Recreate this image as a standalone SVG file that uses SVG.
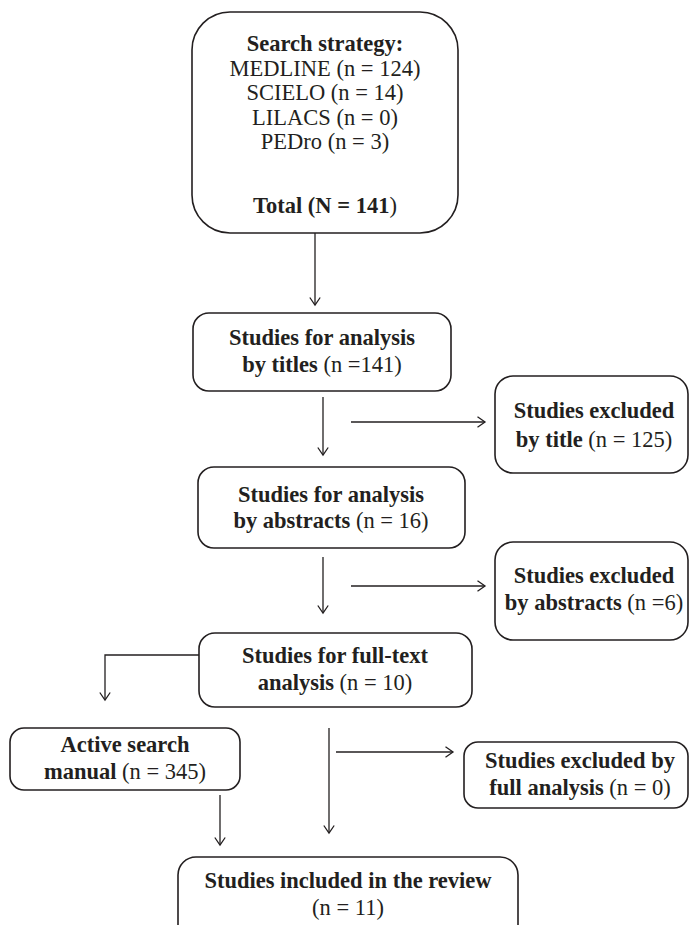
<svg xmlns="http://www.w3.org/2000/svg" width="689" height="925" viewBox="0 0 689 925">
<style>
.box{fill:#fff;stroke:#231f20;stroke-width:1.6}
.t{font-family:"Liberation Serif","Times New Roman",serif;font-size:22.5px;fill:#231f20;text-anchor:middle}
.b{font-weight:bold}
.c{fill:none;stroke:#231f20;stroke-width:1.3}
</style>
<defs>
<marker id="ah" markerUnits="userSpaceOnUse" markerWidth="12" markerHeight="14" refX="9" refY="6" orient="auto">
<path d="M1.5,0.8 L9,6 L1.5,11.2" fill="none" stroke="#231f20" stroke-width="1.3"/>
</marker>
</defs>
<rect width="689" height="925" fill="#fff"/>
<g id="connectors">
<path class="c" d="M315,233 V305" marker-end="url(#ah)"/>
<path class="c" d="M323,397 V455" marker-end="url(#ah)"/>
<path class="c" d="M351,422 H485" marker-end="url(#ah)"/>
<path class="c" d="M323,557 V613" marker-end="url(#ah)"/>
<path class="c" d="M351,586 H485" marker-end="url(#ah)"/>
<path class="c" d="M199,655 H105 V700" marker-end="url(#ah)"/>
<path class="c" d="M336,752 H453" marker-end="url(#ah)"/>
<path class="c" d="M329,728 V833" marker-end="url(#ah)"/>
<path class="c" d="M220,795 V845" marker-end="url(#ah)"/>
</g>
<g id="search">
<rect class="box" x="192" y="12" width="266" height="221" rx="38"/>
<text class="t b" x="325" y="51">Search strategy:</text>
<text class="t" x="325" y="76">MEDLINE (n = 124)</text>
<text class="t" x="325" y="100">SCIELO (n = 14)</text>
<text class="t" x="325" y="125">LILACS (n = 0)</text>
<text class="t" x="325" y="149">PEDro (n = 3)</text>
<text class="t" x="325" y="213"><tspan class="b">Total (N = 141</tspan><tspan>)</tspan></text>
</g>
<g id="titles">
<rect class="box" x="193" y="313" width="258" height="78" rx="16"/>
<text class="t b" x="322" y="345">Studies for analysis</text>
<text class="t" x="322" y="372"><tspan class="b">by titles</tspan> (n =141)</text>
</g>
<g id="excl-title">
<rect class="box" x="495" y="376" width="193" height="97" rx="18"/>
<text class="t b" x="594" y="418">Studies excluded</text>
<text class="t" x="594" y="447"><tspan class="b">by title</tspan> (n = 125)</text>
</g>
<g id="abstracts">
<rect class="box" x="198" y="467" width="267" height="81" rx="16"/>
<text class="t b" x="331" y="502">Studies for analysis</text>
<text class="t" x="331" y="528"><tspan class="b">by abstracts</tspan> (n = 16)</text>
</g>
<g id="excl-abstracts">
<rect class="box" x="495" y="542" width="193" height="98" rx="18"/>
<text class="t b" x="594" y="583">Studies excluded</text>
<text class="t" x="594" y="610"><tspan class="b">by abstracts</tspan> (n =6)</text>
</g>
<g id="fulltext">
<rect class="box" x="199" y="633" width="273" height="74" rx="16"/>
<text class="t b" x="335" y="663">Studies for full-text</text>
<text class="t" x="335" y="690"><tspan class="b">analysis</tspan> (n = 10)</text>
</g>
<g id="active">
<rect class="box" x="10" y="728" width="230" height="62" rx="14"/>
<text class="t b" x="125" y="752">Active search</text>
<text class="t" x="125" y="779"><tspan class="b">manual</tspan> (n = 345)</text>
</g>
<g id="excl-full">
<rect class="box" x="464" y="742" width="224" height="66" rx="14"/>
<text class="t b" x="580" y="768">Studies excluded by</text>
<text class="t" x="580" y="795"><tspan class="b">full analysis</tspan> (n = 0)</text>
</g>
<g id="included">
<rect class="box" x="178" y="857" width="340" height="90" rx="18"/>
<text class="t b" x="348" y="888">Studies included in the review</text>
<text class="t" x="348" y="915">(n = 11)</text>
</g>
</svg>
